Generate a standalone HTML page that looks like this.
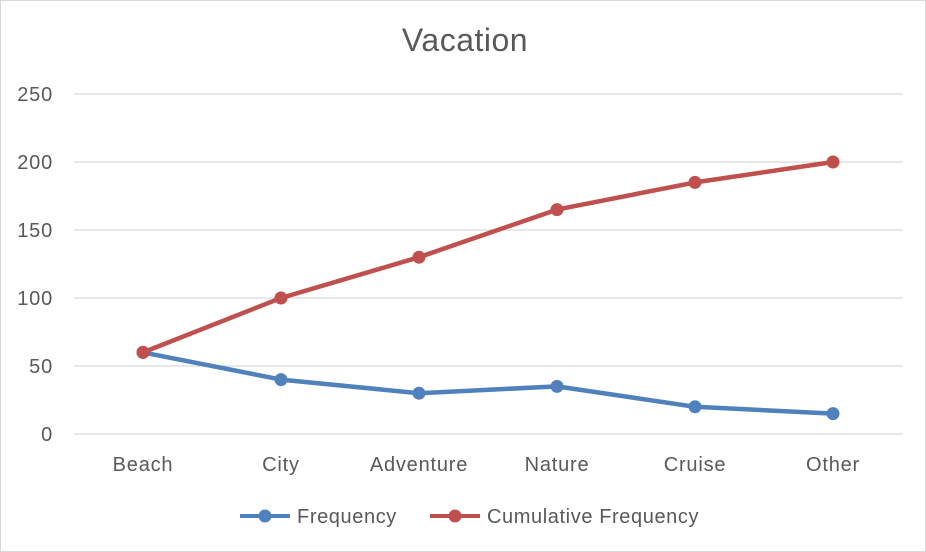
<!DOCTYPE html>
<html><head><meta charset="utf-8"><style>
html,body{margin:0;padding:0;background:#fff}
svg{display:block;font-family:"Liberation Sans",sans-serif}
</style></head><body>
<svg width="926" height="552">
<rect x="0.5" y="0.5" width="925" height="551" fill="#fff" stroke="#d9d9d9"/>
<text x="465" y="51" text-anchor="middle" font-size="32" letter-spacing="0.5" fill="#595959">Vacation</text>
<g id="grid"></g><g id="xl"></g><g id="series"></g>
<g>
<line x1="240" y1="516" x2="290" y2="516" stroke="#4f81bd" stroke-width="4"/>
<circle cx="265" cy="516" r="6.5" fill="#4f81bd"/>
<text x="297" y="523" font-size="20" letter-spacing="0.6" fill="#595959">Frequency</text>
<line x1="430" y1="516" x2="480" y2="516" stroke="#c0504d" stroke-width="4"/>
<circle cx="455" cy="516" r="6.5" fill="#c0504d"/>
<text x="487" y="523" font-size="20" letter-spacing="0.6" fill="#595959">Cumulative Frequency</text>
</g>
</svg>
<script>
const categories=["Beach","City","Adventure","Nature","Cruise","Other"];
const frequency=[60,40,30,35,20,15];
const cumulative=[60,100,130,165,185,200];
const yTicks=[0,50,100,150,200,250];
const NS="http://www.w3.org/2000/svg";
const y=v=>434-v*(340/250);
const x=i=>143+i*138;
function mk(t,a,p){const e=document.createElementNS(NS,t);for(const k in a)e.setAttribute(k,a[k]);p.appendChild(e);return e;}
const g=document.getElementById('grid');
yTicks.forEach(t=>{
 const l=mk('line',{x1:74,x2:903,y1:y(t),y2:y(t),stroke:'#d9d9d9','stroke-width':1.3},g);
 
 
 const tx=mk('text',{x:53,y:y(t)+7,'text-anchor':'end','font-size':20,'letter-spacing':0.8,fill:'#595959'},g);
 tx.textContent=t;
 
 
});
const xl=document.getElementById('xl');
categories.forEach((c,i)=>{
 const tx=mk('text',{x:x(i),y:471,'text-anchor':'middle','font-size':20,'letter-spacing':0.8,fill:'#595959'},xl);
 tx.textContent=c;
 
 
});
const s=document.getElementById('series');
function draw(vals,color,name){
 const p=mk('polyline',{points:vals.map((v,i)=>x(i)+','+y(v)).join(' '),fill:'none',stroke:color,'stroke-width':4.5,'stroke-linejoin':'round'},s);
 
 
 vals.forEach((v,i)=>{
  const c=mk('circle',{cx:x(i),cy:y(v),r:6.5,fill:color},s);
  
  
 });
}
draw(frequency,'#4f81bd','frequency');
draw(cumulative,'#c0504d','cumulative');
</script>
</body></html>
